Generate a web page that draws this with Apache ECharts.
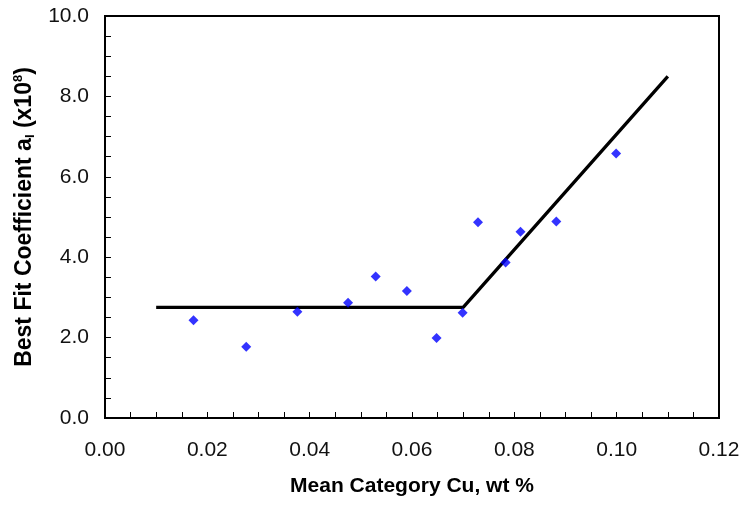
<!DOCTYPE html>
<html><head><meta charset="utf-8">
<script src="https://cdn.jsdelivr.net/npm/echarts@6/dist/echarts.min.js"></script>
<style>html,body{margin:0;padding:0;background:#fff}#c{width:744px;height:506px}</style>
</head><body><div id="c"></div>
<script>
const cuX = [0.0173, 0.0276, 0.0376, 0.0475, 0.0529, 0.0590, 0.0648, 0.0699, 0.0729, 0.0783, 0.0812, 0.0882, 0.0999];
const coefY = [2.43, 1.77, 2.64, 2.87, 3.52, 3.16, 1.99, 2.62, 4.87, 3.87, 4.63, 4.89, 6.58];
const fitX = [0.01, 0.07, 0.11];
const fitY = [2.75, 2.75, 8.5];

const chart = echarts.init(document.getElementById('c'));
const font = 'Arial, "Liberation Sans", sans-serif';
chart.setOption({
  animation: false,
  grid: {left: 105, right: 25, top: 16, bottom: 88, show: true, borderColor: '#000', borderWidth: 2},
  xAxis: {
    type: 'value', min: 0, max: 0.12, interval: 0.02,
    name: 'Mean Category Cu, wt %', nameLocation: 'middle', nameGap: 58,
    nameTextStyle: {fontFamily: font, fontWeight: 'bold', fontSize: 21, color: '#000'},
    axisLine: {show: true, lineStyle: {color: '#000', width: 2}},
    axisTick: {show: true, inside: true, length: 6, lineStyle: {color: '#000', width: 1}},
    minorTick: {show: true, splitNumber: 4, length: 6, lineStyle: {color: '#000', width: 1}},
    splitLine: {show: false},
    axisLabel: {fontFamily: font, fontSize: 21, color: '#111', margin: 22, formatter: v => v.toFixed(2)}
  },
  yAxis: {
    type: 'value', min: 0, max: 10, interval: 2,
    name: '{b|Best Fit Coefficient a}{sub|I}{b| (x10}{sup|8}{b|)}', nameLocation: 'middle', nameGap: 66,
    nameTextStyle: {
      fontFamily: font, fontWeight: 'bold', fontSize: 23, color: '#000',
      rich: {
        b: {fontFamily: font, fontWeight: 'bold', fontSize: 23, color: '#000', lineHeight: 27},
        sub: {fontFamily: font, fontWeight: 'bold', fontSize: 13, color: '#000', padding: [12, 0, 0, 0], lineHeight: 27},
        sup: {fontFamily: font, fontWeight: 'bold', fontSize: 13, color: '#000', padding: [0, 0, 12, 0], lineHeight: 27}
      }
    },
    axisLine: {show: true, lineStyle: {color: '#000', width: 2}},
    axisTick: {show: true, inside: true, length: 6, lineStyle: {color: '#000', width: 1}},
    minorTick: {show: true, splitNumber: 4, length: 6, lineStyle: {color: '#000', width: 1}},
    splitLine: {show: false},
    axisLabel: {fontFamily: font, fontSize: 21, color: '#111', margin: 16, formatter: v => v.toFixed(1)}
  },
  series: [
    {type: 'line', data: fitX.map((x, i) => [x, fitY[i]]), symbol: 'none',
     lineStyle: {color: '#000', width: 3.3}, z: 2},
    {type: 'scatter', data: cuX.map((x, i) => [x, coefY[i]]), symbol: 'diamond', symbolSize: 10,
     itemStyle: {color: '#0000ff'}, z: 3}
  ]
});
</script></body></html>
